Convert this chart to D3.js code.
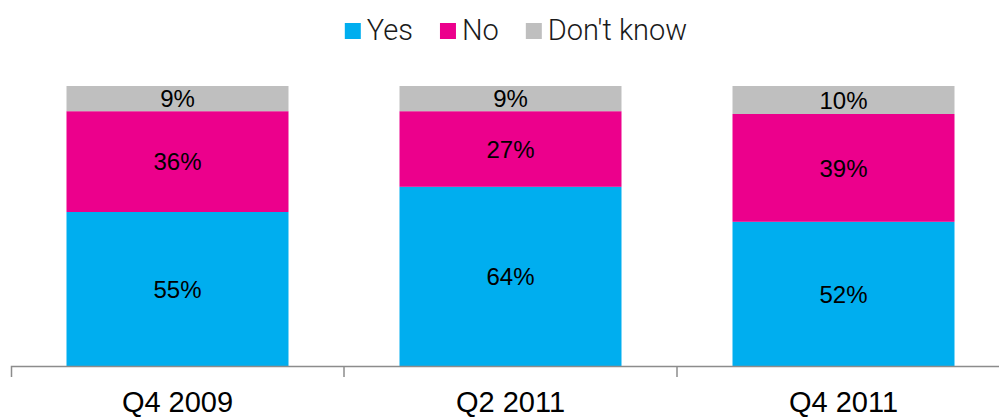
<!DOCTYPE html>
<html>
<head>
<meta charset="utf-8">
<script src="https://cdn.jsdelivr.net/npm/d3@7"></script>
<style>
  body { margin: 0; background: #fff; }
  svg { display: block; }
  .lbl { font-family: "Liberation Sans", Arial, sans-serif; font-size: 24px; fill: #000; }
  .leg { font-family: Roboto, "Liberation Sans", sans-serif; font-weight: 300; font-size: 29px; fill: #1a1a1a; }
  .cat { font-family: "Liberation Sans", Arial, sans-serif; font-size: 29px; fill: #000; }
</style>
</head>
<body>
<div id="chart"></div>
<script>
"use strict";

var categories = ["Q4 2009", "Q2 2011", "Q4 2011"];
var seriesNames = ["Yes", "No", "Don't know"];
var colors = ["#00aeef", "#ec008c", "#bfbfbf"];

var yesVals = [55, 64, 51.5];
var noVals = [36, 27, 38.5];
var dkVals = [9, 9, 10];

var yesLabels = ["55%", "64%", "52%"];
var noLabels = ["36%", "27%", "39%"];
var dkLabels = ["9%", "9%", "10%"];

var W = 999, H = 419;

var svg = d3.select("#chart")
            .append("svg")
            .attr("width", W)
            .attr("height", H);

var x = d3.scaleBand()
          .domain(categories)
          .range([11, 1010])
          .paddingInner(1 / 3)
          .paddingOuter(1 / 6);

var y = d3.scaleLinear()
          .domain([0, 100])
          .range([366, 86]);

var series = [
  { name: seriesNames[0], vals: yesVals, labels: yesLabels, color: colors[0] },
  { name: seriesNames[1], vals: noVals, labels: noLabels, color: colors[1] },
  { name: seriesNames[2], vals: dkVals, labels: dkLabels, color: colors[2] }
];

// stack the segments
var base = categories.map(function () { return 0; });
series.forEach(function (s) {
  s.segs = s.vals.map(function (v, i) {
    var seg = { cat: categories[i], y0: base[i], y1: base[i] + v, label: s.labels[i] };
    base[i] += v;
    return seg;
  });
});

series.forEach(function (s, k) {
  var g = svg.append("g");
  g.selectAll("rect")
   .data(s.segs)
   .enter()
   .append("rect")
   .attr("x", function (d) { return x(d.cat); })
   .attr("y", function (d) { return y(d.y1); })
   .attr("width", x.bandwidth())
   .attr("height", function (d) { return y(d.y0) - y(d.y1); })
   .attr("fill", s.color);

  g.selectAll("text")
   .data(s.segs)
   .enter()
   .append("text")
   .attr("class", "lbl")
   .attr("x", function (d) { return x(d.cat) + x.bandwidth() / 2; })
   .attr("y", function (d) { return (y(d.y0) + y(d.y1)) / 2; })
   .attr("dy", "0.36em")
   .attr("text-anchor", "middle")
   .text(function (d) { return d.label; });
});

// axis
var axis = d3.axisBottom(x).tickSizeInner(0).tickSizeOuter(11).tickPadding(0);
var ax = svg.append("g")
            .attr("transform", "translate(0,366)")
            .call(axis);
ax.select(".domain").attr("stroke", "#8c8c8c").attr("stroke-width", 1.5);
ax.selectAll(".tick text")
  .attr("class", "cat")
  .attr("font-family", null)
  .attr("font-size", null)
  .attr("y", 46)
  .attr("dy", 0);

// ticks at band boundaries
var bounds = categories.slice(1).map(function (c) { return x(c) - x.step() * x.paddingInner() / 2; });
ax.selectAll(".bound")
  .data(bounds)
  .enter()
  .append("line")
  .attr("x1", function (d) { return d; })
  .attr("x2", function (d) { return d; })
  .attr("y1", 0)
  .attr("y2", 11)
  .attr("stroke", "#8c8c8c")
  .attr("stroke-width", 1.5);

// legend
var leg = svg.append("g");
var items = leg.selectAll("g")
               .data(series)
               .enter()
               .append("g");
items.append("rect")
     .attr("width", 16)
     .attr("height", 16)
     .attr("y", 23)
     .attr("fill", function (d) { return d.color; });
items.append("text")
     .attr("class", "leg")
     .attr("x", 22)
     .attr("y", 40)
     .text(function (d) { return d.name; });

var xpos = 0;
items.each(function () {
  var w = d3.select(this).select("text").node().getComputedTextLength();
  d3.select(this).attr("transform", "translate(" + xpos + ",0)");
  xpos += 22 + w + 27;
});
var legW = xpos - 27;
leg.attr("transform", "translate(" + (516 - legW / 2) + ",0)");
</script>
</body>
</html>
